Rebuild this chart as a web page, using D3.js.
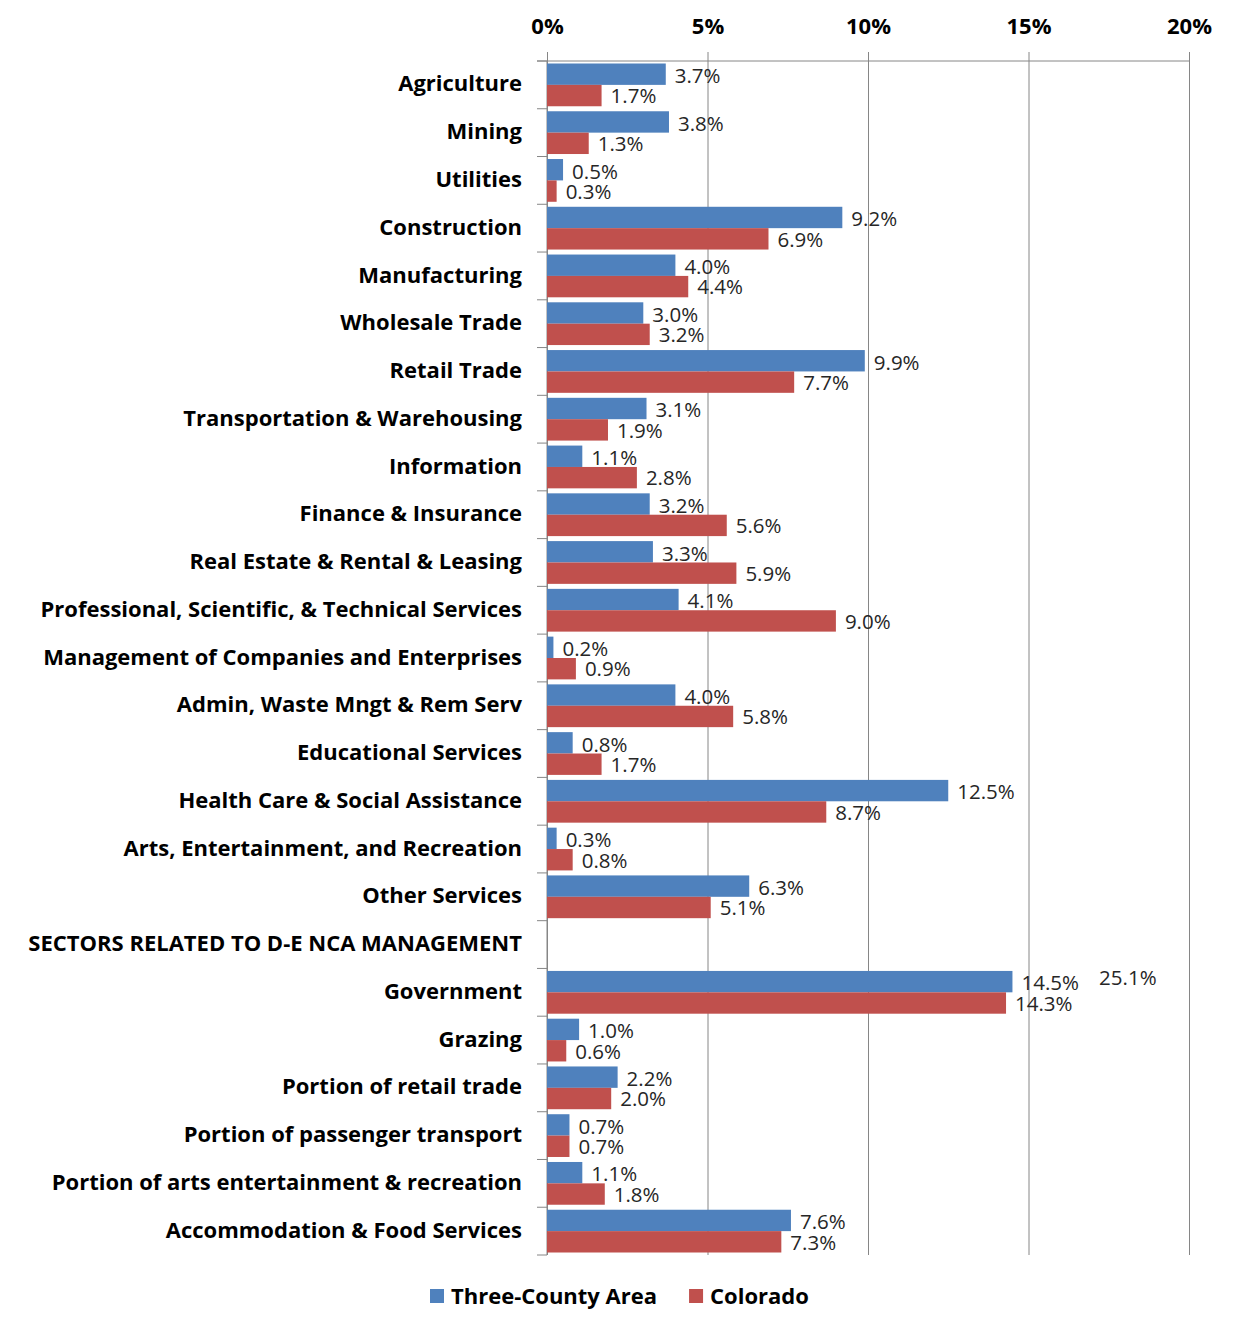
<!DOCTYPE html>
<html><head><meta charset="utf-8">
<script src="https://cdn.jsdelivr.net/npm/d3@7"></script>
<style>
body{margin:0;background:#fff;}
svg{display:block;}
</style></head>
<body>
<svg id="chart" width="1234" height="1328"></svg>
<script>
const categories = [
  "Agriculture","Mining","Utilities","Construction","Manufacturing","Wholesale Trade",
  "Retail Trade","Transportation & Warehousing","Information","Finance & Insurance",
  "Real Estate & Rental & Leasing","Professional, Scientific, & Technical Services",
  "Management of Companies and Enterprises","Admin, Waste Mngt & Rem Serv",
  "Educational Services","Health Care & Social Assistance",
  "Arts, Entertainment, and Recreation","Other Services",
  "SECTORS RELATED TO D-E NCA MANAGEMENT","Government","Grazing",
  "Portion of retail trade","Portion of passenger transport",
  "Portion of arts entertainment & recreation","Accommodation & Food Services"
];
const threeCounty = [3.7,3.8,0.5,9.2,4.0,3.0,9.9,3.1,1.1,3.2,3.3,4.1,0.2,4.0,0.8,12.5,0.3,6.3,null,14.5,1.0,2.2,0.7,1.1,7.6];
const colorado    = [1.7,1.3,0.3,6.9,4.4,3.2,7.7,1.9,2.8,5.6,5.9,9.0,0.9,5.8,1.7,8.7,0.8,5.1,null,14.3,0.6,2.0,0.7,1.8,7.3];
const seriesNames = ["Three-County Area","Colorado"];
const seriesColors = ["#4F81BD","#C0504D"];
const tickValues = [0,5,10,15,20];
// stray label shown in the original next to Government
const extraLabels = [{category:"Government", value:17.2, text:"25.1%"}];

(function(){
const svg = d3.select("#chart");
const mLeft = 547, mRight = 1189, mTop = 61, mBottom = 1255;
const x = d3.scaleLinear().domain([0,20]).range([mLeft,mRight]);
const y = d3.scaleBand().domain(categories).range([mTop,mBottom]);
const inner = d3.scaleBand().domain([0,1]).range([2.5, y.bandwidth()-2.5]);

const labelFont = "'Open Sans', Lato, sans-serif";
const valueFont = "'Open Sans', sans-serif";

// gridlines + top axis
const xAxis = d3.axisTop(x).tickValues(tickValues).tickFormat(d=>d+"%").tickSize(9).tickSizeOuter(0);
const gx = svg.append("g").attr("transform",`translate(0,${mTop})`).call(xAxis);
gx.select(".domain").remove();
gx.selectAll(".tick line").attr("stroke","#868686").attr("y2",-9).attr("y1",mBottom-mTop);
gx.selectAll(".tick text").attr("font-family",labelFont).attr("font-weight","bold")
  .attr("font-size",22).attr("fill","#000").attr("y",-27).attr("dy","0");
svg.append("line").attr("x1",mLeft-10).attr("x2",mRight).attr("y1",mTop).attr("y2",mTop).attr("stroke","#868686");

// left axis
svg.append("line").attr("x1",mLeft).attr("x2",mLeft).attr("y1",mTop).attr("y2",mBottom).attr("stroke","#868686");
const boundaries = categories.map(c=>y(c)).concat([mBottom]);
svg.append("g").selectAll("line").data(boundaries).join("line")
  .attr("x1",mLeft-10).attr("x2",mLeft).attr("y1",d=>d).attr("y2",d=>d).attr("stroke","#868686");
const yAxis = d3.axisLeft(y).tickSize(0).tickPadding(25);
const gy = svg.append("g").attr("transform",`translate(${mLeft},0)`).call(yAxis);
gy.select(".domain").remove();
gy.selectAll(".tick text").attr("font-family",labelFont).attr("font-weight","bold")
  .attr("font-size",22).attr("fill","#000").attr("dy","0.3em");

// bars
const rows = categories.map((c,i)=>({c, v:[threeCounty[i],colorado[i]]}));
const g = svg.append("g");
rows.forEach(r=>{
  r.v.forEach((v,s)=>{
    if(v==null) return;
    const yy = y(r.c)+inner(s);
    g.append("rect").attr("x",x(0)).attr("y",yy).attr("width",x(v)-x(0))
      .attr("height",inner.bandwidth()).attr("fill",seriesColors[s]);
  });
});
rows.forEach(r=>{
  r.v.forEach((v,s)=>{
    if(v==null) return;
    const yy = y(r.c)+inner(s)+inner.bandwidth()/2 + (s===0?1:0);
    g.append("text").attr("x",x(v)+9).attr("y",yy).attr("dy","0.38em")
      .attr("font-family",valueFont).attr("font-weight",400).attr("font-size",20.5)
      .attr("fill","#262626").text(v.toFixed(1)+"%");
  });
});
extraLabels.forEach(e=>{
  g.append("text").attr("x",x(e.value)).attr("y",y(e.category)+inner(0)+6).attr("dy","0.38em")
    .attr("font-family",valueFont).attr("font-weight",400).attr("font-size",20.5)
    .attr("fill","#262626").text(e.text);
});

// legend
const legend = svg.append("g").attr("transform","translate(430,1296)");
let lx = 0;
seriesNames.forEach((n,i)=>{
  const it = legend.append("g").attr("transform",`translate(${lx},0)`);
  it.append("rect").attr("x",0).attr("y",-7).attr("width",14).attr("height",14).attr("fill",seriesColors[i]);
  const t = it.append("text").attr("x",21).attr("y",0).attr("dy","0.36em")
    .attr("font-family",labelFont).attr("font-weight","bold").attr("font-size",22).attr("fill","#000").text(n);
  lx += 21 + t.node().getComputedTextLength() + 32;
});
})();
</script>
</body></html>
